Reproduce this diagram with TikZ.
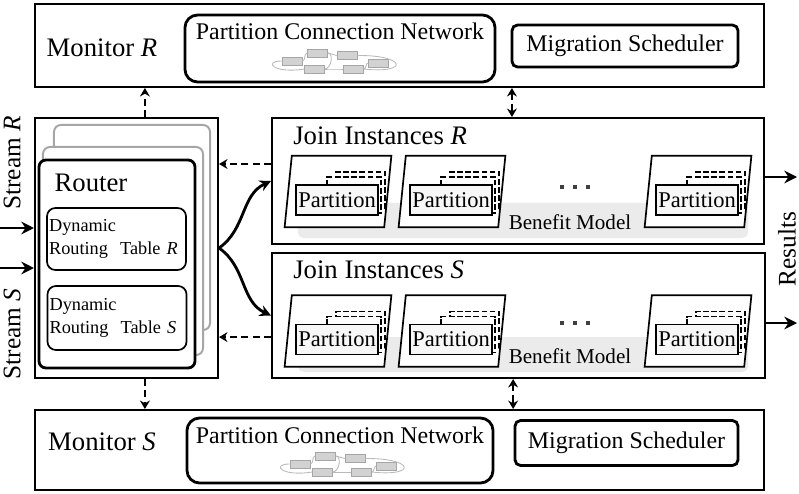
\documentclass[tikz,border=0pt]{standalone}
\usepackage{fontspec}
\setmainfont{Liberation Serif}
\usetikzlibrary{arrows.meta, shapes.geometric, positioning, calc}
\tikzset{
  bigtext/.style={inner sep=0pt, font=\fontsize{17}{20}\selectfont},
  plainbox/.style={
    rectangle, draw=black, line width=1.4pt, fill=white, inner sep=0pt
  },
  pcnbox/.style={
    rectangle, rounded corners=9pt, draw=black, line width=2pt,
    fill=white, inner sep=0pt
  },
  migbox/.style={
    rectangle, rounded corners=4pt, draw=black, line width=2pt,
    fill=white, inner sep=0pt, font=\fontsize{17}{20}\selectfont
  },
  stackbox/.style={
    rectangle, rounded corners=5pt, draw=#1, line width=1.4pt,
    fill=white, inner sep=0pt
  },
  tablebox/.style={
    rectangle, rounded corners=6pt, draw=black, line width=1.2pt,
    fill=white, inner sep=1.5pt, align=left, text width=3.37cm,
    minimum height=1.55cm, font=\fontsize{13}{16.5}\selectfont
  },
  instbase/.style={
    rectangle, minimum width=2.475cm, minimum height=1.775cm, inner sep=0pt
  },
  instline/.style={draw=black, line width=1.2pt, fill=white},
  partbox/.style={
    rectangle, draw=black, line width=1.4pt, fill=gray!6,
    minimum width=2.05cm, minimum height=0.75cm, inner sep=0pt,
    font=\fontsize{16}{18}\selectfont
  },
  copybox/.style={
    rectangle, draw=black, dash pattern=on 4pt off 1.8pt, line width=1pt,
    fill=white, inner sep=0pt
  },
  bandbox/.style={
    rectangle, rounded corners=4pt, fill=gray!16, draw=none,
    minimum width=11.25cm, minimum height=0.875cm, inner sep=0pt
  },
  bandtext/.style={inner sep=0pt, font=\fontsize{15}{18}\selectfont},
  netbox/.style={
    rectangle, draw=gray!70, fill=gray!35, line width=0.4pt,
    minimum width=0.5cm, minimum height=0.2cm, inner sep=0pt
  },
  netline/.style={draw=gray!55, line width=0.6pt},
  streamarrow/.style={-{Stealth[length=9pt,width=9pt]}, line width=2pt},
  curvearrow/.style={-{Stealth[length=8pt,width=8pt]}, line width=2pt},
  dasharrow/.style={-{Stealth[length=6pt,width=7pt]}, line width=1.8pt,
    dash pattern=on 5pt off 3pt},
  dblarrow/.style={{Stealth[length=6pt,width=7pt]}-{Stealth[length=6pt,width=7pt]},
    line width=1.8pt, dash pattern=on 5pt off 3pt},
  pcngraph/.pic={
    \node[netbox] (-a) at (-43,0) {};
    \node[netbox] (-b) at (-17.5,-8) {};
    \node[netbox] (-c) at (12,-5.5) {};
    \node[netbox] (-d) at (-20.5,8) {};
    \node[netbox] (-e) at (18.5,8) {};
    \node[netbox] (-f) at (43.5,2) {};
    \draw[netline] (-a.east) to[out=0,in=180] (-b.west);
    \draw[netline] (-b.east) to[out=0,in=180] (-c.west);
    \draw[netline] (-b.east) to[out=0,in=0] (-d.east);
    \draw[netline] (-d.east) to[out=0,in=180] (-e.west);
    \draw[netline] (-e.east) to[out=0,in=180] (-f.west);
    \draw[netline] (-a.west) .. controls (-72,0) and (-62,13) .. (-d.west);
    \draw[netline] (-c.east) .. controls (72,-6) and (74,13) .. (-e.east);
  },
}

\begin{document}
\begin{tikzpicture}[x=0.025cm, y=-0.025cm]
  \useasboundingbox (0,0) rectangle (799,493);
  % monitors
  \node[plainbox, minimum width=18.225cm, minimum height=2.075cm](monr) at (399.5,45.5) {};
  \node[plainbox, minimum width=18.225cm, minimum height=2.0cm]  (mons) at (399.5,450) {};
  \node[bigtext, font=\fontsize{19}{22}\selectfont](monrlbl) at (102,48)  {Monitor \textit{R}};
  \node[bigtext, font=\fontsize{19}{22}\selectfont](monslbl) at (102,442) {Monitor \textit{S}};
  \node[pcnbox, minimum width=7.75cm, minimum height=1.675cm](pcnr) at (340,48.5) {};
  \node[pcnbox, minimum width=7.65cm, minimum height=1.625cm](pcns) at (340,450.5) {};
  \node[bigtext](pcnrlbl) at (340,31)  {Partition Connection Network};
  \node[bigtext](pcnslbl) at (340,435) {Partition Connection Network};
  \pic (netr) at (335,61)  {pcngraph};
  \pic (nets) at (343,464) {pcngraph};
  \node[migbox, minimum width=5.65cm,  minimum height=1.05cm] (migr) at (625,46)    {Migration Scheduler};
  \node[migbox, minimum width=5.575cm, minimum height=1.125cm](migs) at (626.5,443) {Migration Scheduler};
  % router
  \node[plainbox, minimum width=4.575cm, minimum height=6.5cm](router) at (126.5,248) {};
  \node[stackbox=gray!70, minimum width=3.9cm, minimum height=5.125cm](routerbk) at (132,227.5) {};
  \node[stackbox=gray!70, minimum width=4.0cm, minimum height=5.2cm]  (routermd) at (123,251) {};
  \node[stackbox=black, line width=2pt, minimum width=3.9cm, minimum height=5.2cm](routerfr) at (117,264) {};
  \node[inner sep=0pt, font=\fontsize{19}{22}\selectfont](routerlbl) at (91,183) {Router};
  \node[tablebox](tblr) at (116.5,239) {Dynamic\\Routing~~Table~\textit{R}};
  \node[tablebox, minimum height=1.6cm](tbls) at (117,318) {Dynamic\\Routing~~Table~\textit{S}};
  \node[bigtext, rotate=90, font=\fontsize{18}{20}\selectfont](strr) at (12,163) {Stream \textit{R}};
  \node[bigtext, rotate=90, font=\fontsize{18}{20}\selectfont](strs) at (12,334) {Stream \textit{S}};
  % join instances
  \node[plainbox, minimum width=12.3cm,  minimum height=3.15cm] (joinr) at (518,181)   {};
  \node[plainbox, minimum width=12.325cm,minimum height=3.125cm](joins) at (518.5,315.5) {};
  \node[bigtext, anchor=west, font=\fontsize{19}{22}\selectfont](joinrlbl) at (293,136) {Join Instances \textit{R}};
  \node[bigtext, anchor=west, font=\fontsize{19}{22}\selectfont](joinslbl) at (293,270) {Join Instances \textit{S}};
  \node[bandbox](bandr) at (523,220.5) {};
  \node[bandbox](bands) at (523,354.5) {};
  \node[bandtext](bandrlbl) at (570,222) {Benefit Model};
  \node[bandtext](bandslbl) at (570,356) {Benefit Model};
  \foreach \cx/\cy/\n in {338/191.5/r1, 452/191.5/r2, 698/191.5/r3,
                          338/331/s1,   452/331/s2,   698/331/s3}{
    \node[instbase](inst\n) at (\cx,\cy) {};
    \draw[instline] ([xshift=0.09cm]inst\n.north west) -- ([xshift=0.09cm]inst\n.north east)
      -- ([xshift=-0.09cm]inst\n.south east) -- ([xshift=-0.09cm]inst\n.south west) -- cycle;
    \node[copybox, minimum width=1.225cm, minimum height=0.925cm](copyb\n) at (\cx+22.5,\cy-1) {};
    \node[copybox, minimum width=1.35cm,  minimum height=0.9cm]  (copya\n) at (\cx+16,\cy+3.5) {};
    \node[partbox](part\n) at (\cx-1,\cy+8.5) {Partition};
  }
  \foreach \dx in {562,575,588}{
    \fill[black!75] (\dx-2,185) rectangle (\dx+2,189);
    \fill[black!75] (\dx-2,321) rectangle (\dx+2,325);
  }
  \node[bigtext, rotate=90, font=\fontsize{18}{20}\selectfont](reslbl) at (787,249) {Results};
  % connectors
  \coordinate (srin) at (0,228);
  \coordinate (ssin) at (0,268);
  \draw[streamarrow](srin) -- (srin -| router.west);
  \draw[streamarrow](ssin) -- (ssin -| router.west);
  \coordinate (resr) at (797,177);
  \coordinate (ress) at (797,323);
  \draw[streamarrow](resr -| joinr.east) -- (resr);
  \draw[streamarrow](ress -| joins.east) -- (ress);
  \draw[curvearrow](router.east) to[out=35,in=205] (joinr.west);
  \draw[curvearrow](router.east) to[out=-35,in=155] (joins.west);
  \coordinate (jrback) at ([yshift=0.425cm]joinr.west);
  \coordinate (jsback) at ([yshift=-0.54cm]joins.west);
  \draw[dasharrow](jrback) -- (jrback -| router.east);
  \draw[dasharrow](jsback) -- (jsback -| router.east);
  \coordinate (rtup) at ([xshift=0.46cm]router.north);
  \coordinate (rtdn) at ([xshift=0.46cm]router.south);
  \draw[dasharrow](rtup) -- (rtup |- monr.south);
  \draw[dasharrow](rtdn) -- (rtdn |- mons.north);
  \coordinate (mjr) at ([xshift=2.81cm]monr.south);
  \coordinate (mjs) at ([xshift=2.84cm]mons.north);
  \draw[dblarrow](mjr) -- (mjr |- joinr.north);
  \draw[dblarrow](mjs |- joins.south) -- (mjs);
\end{tikzpicture}
\end{document}
